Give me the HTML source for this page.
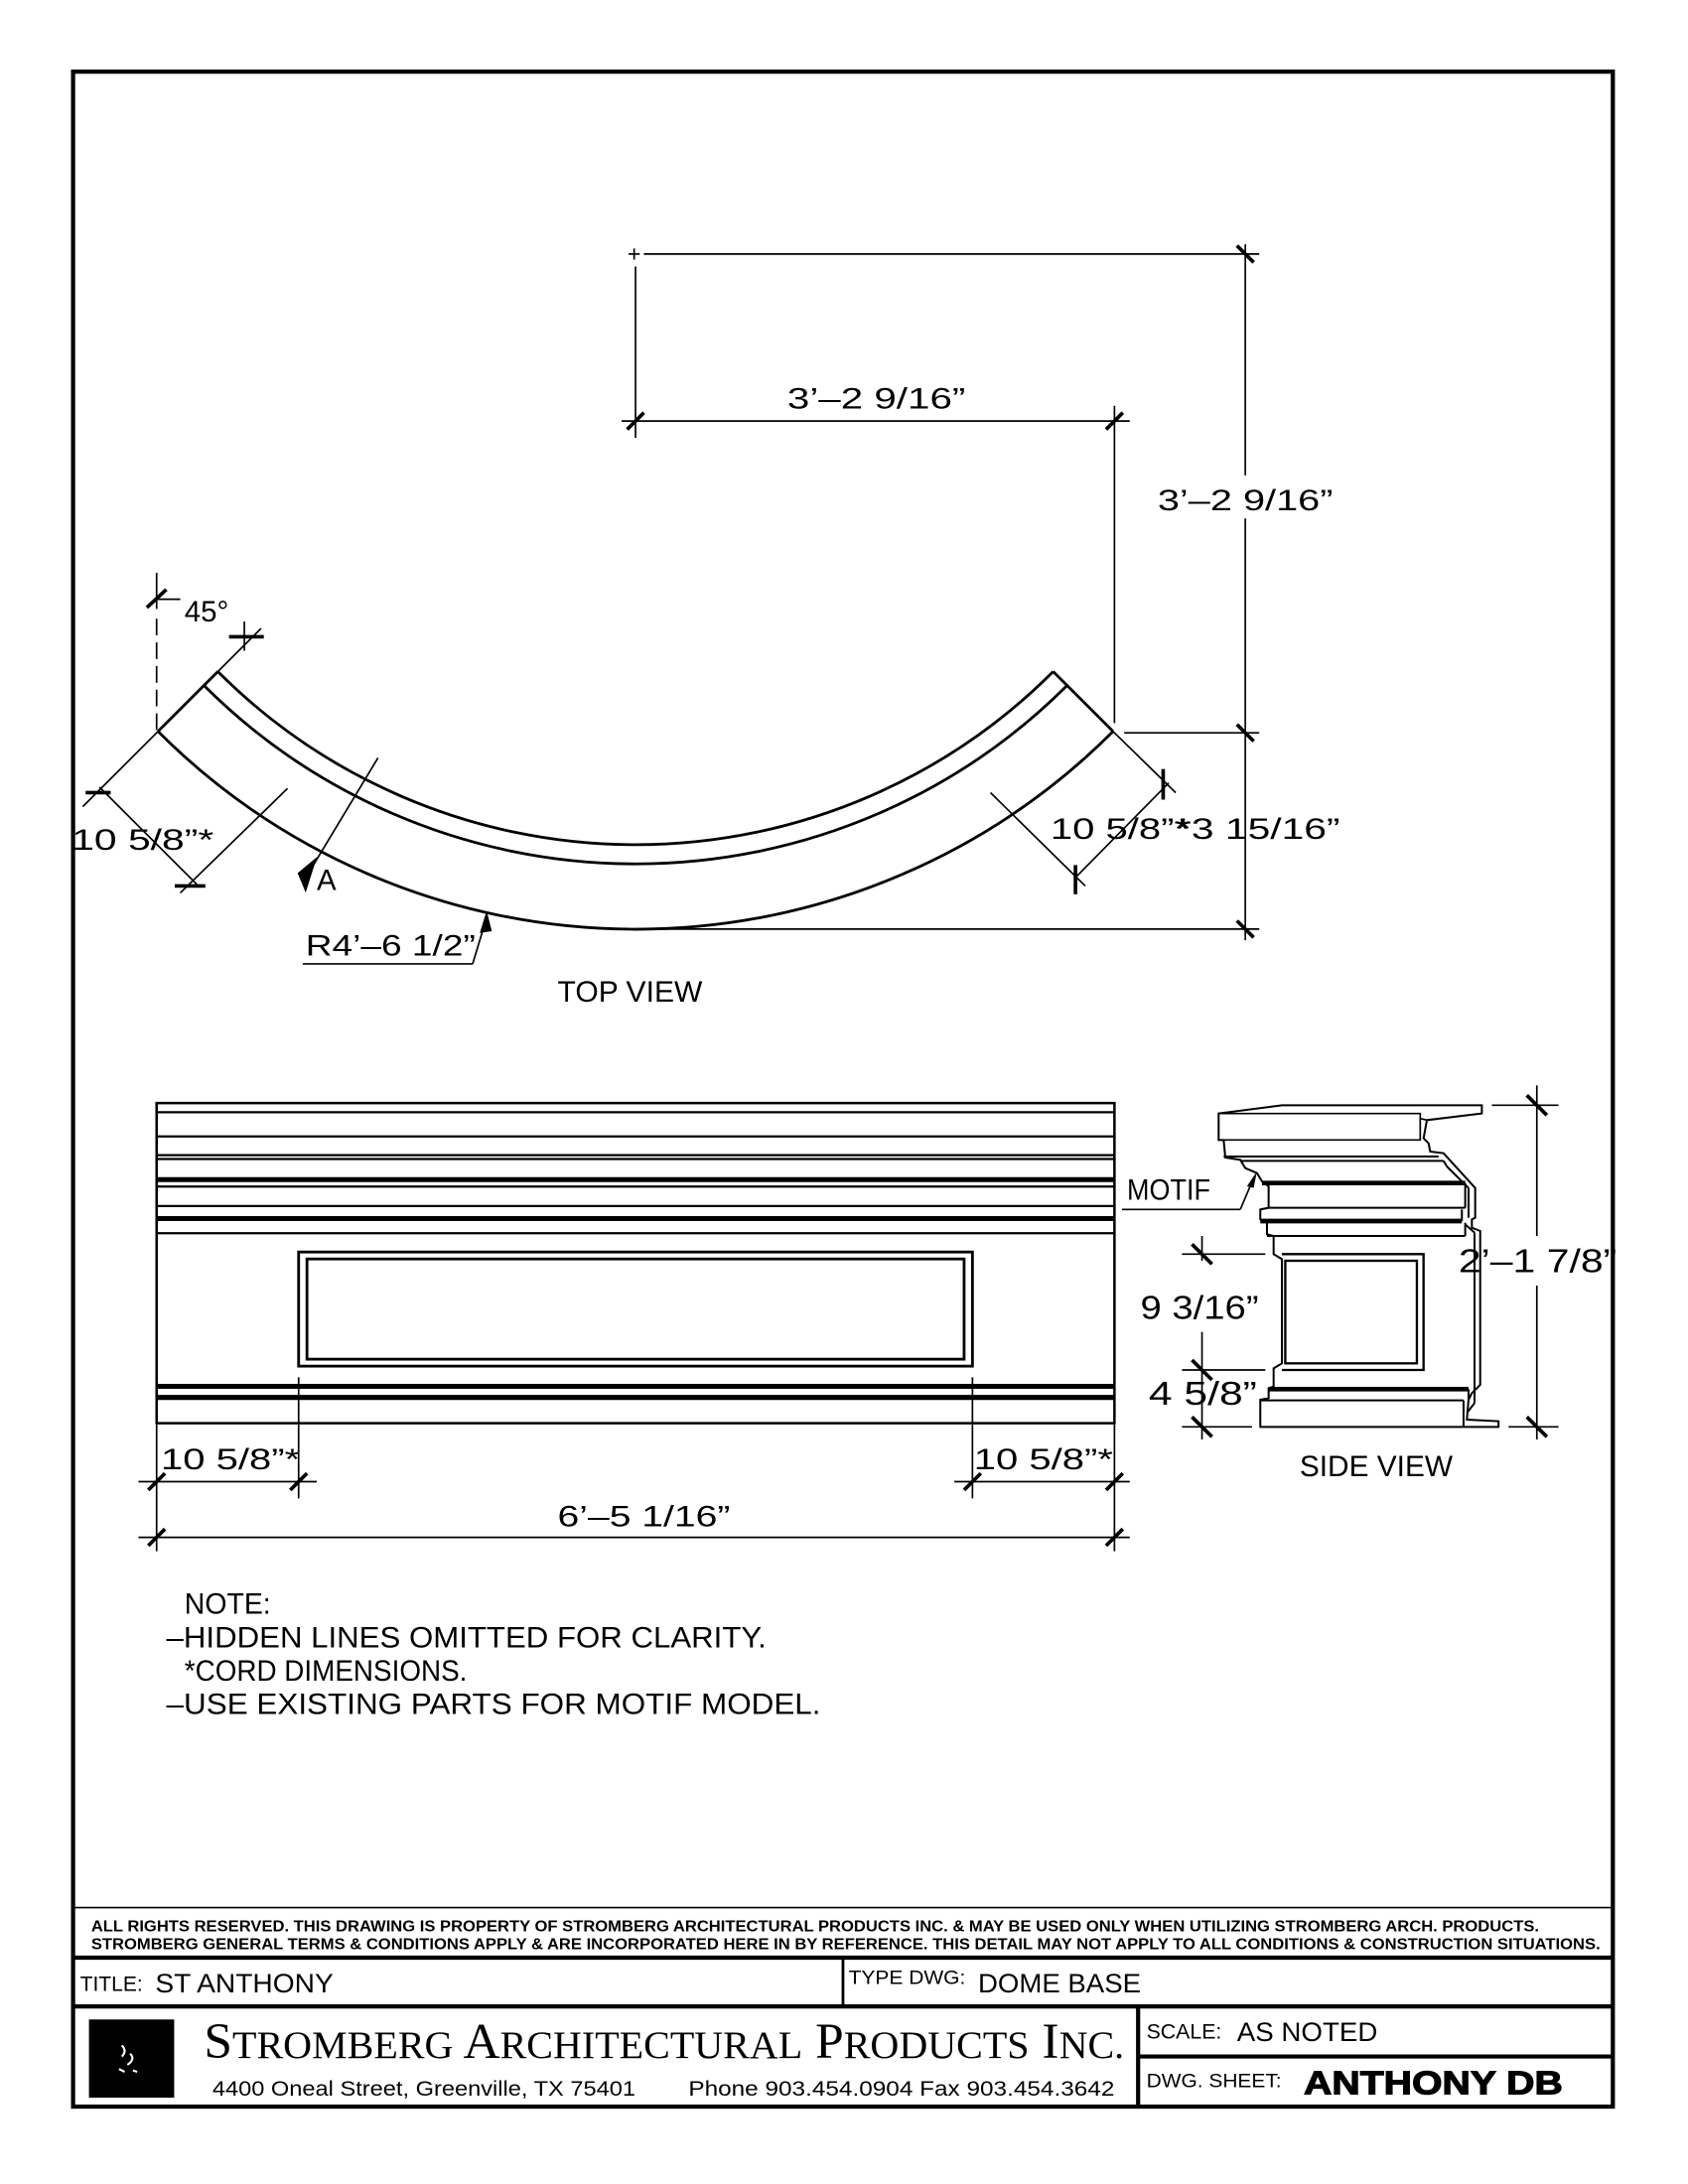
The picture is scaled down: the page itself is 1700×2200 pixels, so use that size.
<!DOCTYPE html>
<html><head><meta charset="utf-8"><style>
html,body{margin:0;padding:0;background:#fff}
svg{display:block}
text{font-family:"Liberation Sans",sans-serif;fill:#000}
.d{font-size:21px}
</style></head><body>
<svg width="1700" height="2200" viewBox="0 0 1224 1584" xmlns="http://www.w3.org/2000/svg">
<rect width="1224" height="1584" fill="#fff"/>
<g transform="translate(53,53) scale(1.0095) translate(-53,-53)" stroke="#000" fill="none" stroke-width="1.2">
<rect x="53" y="52" width="1106" height="1462" stroke-width="3"/>
<line x1="463" y1="183" x2="905" y2="183"/>
<line x1="452" y1="183" x2="460" y2="183"/><line x1="456" y1="179" x2="456" y2="187"/>
<line x1="457" y1="192" x2="457" y2="315"/>
<line x1="447" y1="303" x2="812" y2="303"/>
<line x1="801" y1="292" x2="801" y2="520"/>
<line x1="895" y1="176" x2="895" y2="342"/>
<line x1="895" y1="373" x2="895" y2="676"/>
<line x1="808" y1="527" x2="905" y2="527"/>
<line x1="460" y1="668" x2="905" y2="668"/>
<g stroke-width="2.6">
<line x1="451" y1="309" x2="463" y2="297"/>
<line x1="795" y1="309" x2="807" y2="297"/>
<line x1="889" y1="177" x2="901" y2="189"/>
<line x1="889" y1="521" x2="901" y2="533"/>
<line x1="889" y1="662" x2="901" y2="674"/>
</g>
<g stroke-width="2">
<path d="M114,526 A485,485 0 0 0 800,526"/>
<path d="M147,493 A439,439 0 0 0 767,493"/>
<path d="M157,483 A424,424 0 0 0 757,483"/>
<line x1="114" y1="526" x2="157" y2="483"/>
<line x1="800" y1="526" x2="757" y2="483"/>
</g>
<line x1="113" y1="445" x2="113" y2="525" stroke-dasharray="12,5"/>
<line x1="113" y1="412" x2="113" y2="438"/>
<line x1="106" y1="437" x2="120" y2="424" stroke-width="2.6"/>
<line x1="113" y1="431" x2="130" y2="431"/>
<line x1="157" y1="483" x2="188" y2="452"/>
<line x1="165" y1="458" x2="190" y2="458" stroke-width="2.6"/>
<line x1="176" y1="447" x2="176" y2="468" stroke-width="1.2"/>
<line x1="114" y1="526" x2="60" y2="580"/>
<line x1="207" y1="567" x2="130" y2="642"/>
<line x1="72" y1="566" x2="142" y2="636"/>
<line x1="62" y1="570" x2="80" y2="570" stroke-width="2.6"/>
<line x1="126" y1="637" x2="148" y2="637" stroke-width="2.6"/>
<line x1="272" y1="545" x2="222" y2="628"/>
<path d="M215,628 L227,618 L220,640 Z" fill="#000"/>
<line x1="218" y1="693" x2="340" y2="693"/>
<line x1="340" y1="693" x2="350" y2="660"/>
<path d="M350,657 L346,670 L353,669 Z" fill="#000"/>
<line x1="800" y1="526" x2="845" y2="570"/>
<line x1="712" y1="570" x2="780" y2="637"/>
<line x1="840" y1="563" x2="772" y2="632"/>
<line x1="836" y1="553" x2="836" y2="575" stroke-width="2.6"/>
<line x1="773" y1="622" x2="773" y2="643" stroke-width="2.6"/>

<rect x="113" y="793" width="688" height="230" stroke-width="1.8"/>
<g stroke-width="1.6">
<line x1="113" y1="799.6" x2="801" y2="799.6"/>
<line x1="113" y1="817" x2="801" y2="817"/>
<line x1="113" y1="830.4" x2="801" y2="830.4"/>
<line x1="113" y1="833.2" x2="801" y2="833.2"/>
<line x1="113" y1="853" x2="801" y2="853"/>
<line x1="113" y1="867" x2="801" y2="867"/>
<line x1="113" y1="886.5" x2="801" y2="886.5"/>
</g>
<g stroke-width="3.6">
<line x1="113" y1="848" x2="801" y2="848"/>
<line x1="113" y1="876" x2="801" y2="876"/>
<line x1="113" y1="996.5" x2="801" y2="996.5"/>
<line x1="113" y1="1004.5" x2="801" y2="1004.5"/>
</g>
<rect x="215" y="900" width="484" height="82" stroke-width="2"/>
<rect x="221" y="905" width="472" height="72" stroke-width="2"/>
<line x1="113" y1="1023" x2="113" y2="1115"/>
<line x1="215" y1="990" x2="215" y2="1077"/>
<line x1="699" y1="990" x2="699" y2="1077"/>
<line x1="801" y1="1023" x2="801" y2="1115"/>
<line x1="100" y1="1065" x2="228" y2="1065"/>
<line x1="686" y1="1065" x2="812" y2="1065"/>
<line x1="100" y1="1105" x2="812" y2="1105"/>
<g stroke-width="2.6">
<line x1="107" y1="1071" x2="119" y2="1059"/>
<line x1="209" y1="1071" x2="221" y2="1059"/>
<line x1="693" y1="1071" x2="705" y2="1059"/>
<line x1="795" y1="1071" x2="807" y2="1059"/>
<line x1="107" y1="1111" x2="119" y2="1099"/>
<line x1="795" y1="1111" x2="807" y2="1099"/>
</g>

<line x1="53" y1="1371" x2="1159" y2="1371"/>
<line x1="53" y1="1407" x2="1159" y2="1407" stroke-width="3"/>
<line x1="53" y1="1442" x2="1159" y2="1442" stroke-width="3"/>
<line x1="606" y1="1407" x2="606" y2="1442" stroke-width="2"/>
<line x1="818" y1="1442" x2="818" y2="1514" stroke-width="3"/>
<line x1="818" y1="1478" x2="1159" y2="1478" stroke-width="3"/>
<rect x="65" y="1452" width="60" height="55" fill="#000"/>
<path d="M88,1470 q4,4 0,8 M94,1476 q4,4 -2,8 M86,1487 l4,2 M96,1488 l3,1" stroke="#fff" stroke-width="1.5"/>
</g>

<g transform="translate(53,53) scale(1.0095) translate(-53,-53)">
<text class="d" x="566" y="294" textLength="128" lengthAdjust="spacingAndGlyphs">3’–2 9/16”</text>
<text class="d" x="832" y="367" textLength="126" lengthAdjust="spacingAndGlyphs">3’–2 9/16”</text>
<text class="d" x="133" y="447" font-size="19">45°</text>
<text class="d" x="52" y="611" textLength="102" lengthAdjust="spacingAndGlyphs">10 5/8”*</text>
<text class="d" x="228" y="640" font-size="18">A</text>
<text class="d" x="220" y="687" textLength="122" lengthAdjust="spacingAndGlyphs">R4’–6 1/2”</text>
<text class="d" x="755" y="603" textLength="100" lengthAdjust="spacingAndGlyphs">10 5/8”*</text>
<text class="d" x="845" y="603" textLength="118" lengthAdjust="spacingAndGlyphs">*3 15/16”</text>
<text class="d" x="401" y="720" textLength="104" lengthAdjust="spacingAndGlyphs">TOP VIEW</text>
<text class="d" x="116" y="1056" textLength="100" lengthAdjust="spacingAndGlyphs">10 5/8”*</text>
<text class="d" x="700" y="1056" textLength="100" lengthAdjust="spacingAndGlyphs">10 5/8”*</text>
<text class="d" x="401" y="1097" textLength="124" lengthAdjust="spacingAndGlyphs">6’–5 1/16”</text>
<text class="d" x="934" y="1061" textLength="110" lengthAdjust="spacingAndGlyphs">SIDE VIEW</text>
<text class="d" x="133" y="1160" textLength="62" lengthAdjust="spacingAndGlyphs">NOTE:</text>
<text class="d" x="120" y="1184" textLength="431" lengthAdjust="spacingAndGlyphs">–HIDDEN LINES OMITTED FOR CLARITY.</text>
<text class="d" x="133" y="1208" textLength="203" lengthAdjust="spacingAndGlyphs">*CORD DIMENSIONS.</text>
<text class="d" x="120" y="1232" textLength="470" lengthAdjust="spacingAndGlyphs">–USE EXISTING PARTS FOR MOTIF MODEL.</text>

<text x="66" y="1388" font-size="11" font-weight="bold" textLength="1040" lengthAdjust="spacingAndGlyphs">ALL RIGHTS RESERVED. THIS DRAWING IS PROPERTY OF STROMBERG ARCHITECTURAL PRODUCTS INC. &amp; MAY BE USED ONLY WHEN UTILIZING STROMBERG ARCH. PRODUCTS.</text>
<text x="66" y="1401" font-size="11" font-weight="bold" textLength="1084" lengthAdjust="spacingAndGlyphs">STROMBERG GENERAL TERMS &amp; CONDITIONS APPLY &amp; ARE INCORPORATED HERE IN BY REFERENCE. THIS DETAIL MAY NOT APPLY TO ALL CONDITIONS &amp; CONSTRUCTION SITUATIONS.</text>
<text x="58" y="1431" font-size="15" textLength="45" lengthAdjust="spacingAndGlyphs">TITLE:</text>
<text x="112" y="1432" font-size="19" textLength="128" lengthAdjust="spacingAndGlyphs">ST ANTHONY</text>
<text x="610" y="1426" font-size="14" textLength="84" lengthAdjust="spacingAndGlyphs">TYPE DWG:</text>
<text x="703" y="1432" font-size="19" textLength="117" lengthAdjust="spacingAndGlyphs">DOME BASE</text>
<text x="147" y="1479" style="font-family:'Liberation Serif',serif" font-size="36" textLength="661" lengthAdjust="spacingAndGlyphs">S<tspan font-size="28">TROMBERG</tspan> A<tspan font-size="28">RCHITECTURAL</tspan> P<tspan font-size="28">RODUCTS</tspan> I<tspan font-size="28">NC.</tspan></text>
<text x="153" y="1506" font-size="15" textLength="304" lengthAdjust="spacingAndGlyphs">4400 Oneal Street, Greenville, TX  75401</text>
<text x="495" y="1506" font-size="15" textLength="306" lengthAdjust="spacingAndGlyphs">Phone 903.454.0904   Fax 903.454.3642</text>
<text x="824" y="1465" font-size="15" textLength="54" lengthAdjust="spacingAndGlyphs">SCALE:</text>
<text x="889" y="1467" font-size="19" textLength="101" lengthAdjust="spacingAndGlyphs">AS NOTED</text>
<text x="824" y="1500" font-size="14" textLength="97" lengthAdjust="spacingAndGlyphs">DWG. SHEET:</text>
<text x="937" y="1505" font-size="24" font-weight="bold" textLength="186" lengthAdjust="spacingAndGlyphs" stroke="#000" stroke-width="0.8">ANTHONY DB</text>
</g>

<g transform="translate(813.6,777.6) scale(0.2416,0.24)" fill="none" stroke="#000" stroke-width="6">
<path d="M290,205 L290,125 L480,100 L1080,100 L1080,125 L915,145 L905,200 L920,215 L925,240 L965,245 L1060,350 L1060,440 L1050,445 L1050,470 L1075,480 L1075,945 L1050,970 L1040,990 L1035,1050 L1130,1055 L1130,1072 L415,1072 L415,990 L440,985 L440,955 L455,950 L455,895 L480,880 L480,565 L455,550 L455,495 L435,490 L435,455 L415,445 L415,415 L440,410 L440,345 L420,330 L405,305 L370,290 L355,265 L310,258 L305,205 Z"/>
<path d="M300,125 L895,125 L895,205 L300,205 M895,140 L915,145" stroke-width="5"/>
<line x1="305" y1="255" x2="950" y2="255"/>
<line x1="355" y1="268" x2="965" y2="268"/>
<line x1="965" y1="268" x2="975" y2="285"/>
<line x1="975" y1="285" x2="1040" y2="350"/>
<line x1="1040" y1="350" x2="1040" y2="440"/>
<line x1="420" y1="335" x2="1030" y2="335" stroke-width="14"/>
<line x1="440" y1="410" x2="1030" y2="410"/>
<line x1="1030" y1="335" x2="1030" y2="410"/>
<line x1="415" y1="450" x2="1020" y2="450" stroke-width="14"/>
<line x1="435" y1="495" x2="1030" y2="495"/>
<line x1="1020" y1="415" x2="1020" y2="450"/>
<line x1="1030" y1="455" x2="1030" y2="495"/>
<line x1="1030" y1="460" x2="1058" y2="485"/>
<line x1="1058" y1="485" x2="1058" y2="1000"/>
<line x1="1058" y1="1000" x2="1035" y2="1030"/>
<path d="M480,550 L905,550 L905,900 L480,900" stroke-width="7"/>
<rect x="490" y="570" width="395" height="310" stroke-width="7"/>
<line x1="440" y1="958" x2="1040" y2="958" stroke-width="14"/>
<line x1="415" y1="992" x2="1025" y2="992"/>
<line x1="1025" y1="992" x2="1025" y2="1072"/>
<line x1="1040" y1="958" x2="1040" y2="990"/>
<line x1="0" y1="415" x2="355" y2="415" stroke-width="5"/>
<line x1="355" y1="415" x2="395" y2="320" stroke-width="5"/>
<path d="M405,300 L375,345 L395,350 Z" fill="#000" stroke="none"/>
<line x1="180" y1="550" x2="430" y2="550" stroke-width="5"/>
<line x1="180" y1="900" x2="430" y2="900" stroke-width="5"/>
<line x1="180" y1="1072" x2="390" y2="1072" stroke-width="5"/>
<line x1="240" y1="495" x2="240" y2="570" stroke-width="5"/>
<line x1="240" y1="785" x2="240" y2="1110" stroke-width="5"/>
<g stroke-width="11">
<line x1="210" y1="520" x2="270" y2="580"/>
<line x1="210" y1="870" x2="270" y2="930"/>
<line x1="210" y1="1042" x2="270" y2="1102"/>
</g>
<line x1="1110" y1="100" x2="1310" y2="100" stroke-width="5"/>
<line x1="1160" y1="1072" x2="1310" y2="1072" stroke-width="5"/>
<line x1="1245" y1="40" x2="1245" y2="495" stroke-width="5"/>
<line x1="1245" y1="645" x2="1245" y2="1110" stroke-width="5"/>
<g stroke-width="11">
<line x1="1215" y1="70" x2="1275" y2="130"/>
<line x1="1215" y1="1042" x2="1275" y2="1102"/>
</g>
<g stroke="none" fill="#000">
<text x="15" y="385" font-size="88" textLength="250" lengthAdjust="spacingAndGlyphs">MOTIF</text>
<text x="55" y="745" font-size="100" textLength="355" lengthAdjust="spacingAndGlyphs">9 3/16”</text>
<text x="80" y="1005" font-size="100" textLength="325" lengthAdjust="spacingAndGlyphs">4 5/8”</text>
<text x="1010" y="605" font-size="100" textLength="475" lengthAdjust="spacingAndGlyphs">2’–1 7/8”</text>
</g>
</g>
</svg>
</body></html>
